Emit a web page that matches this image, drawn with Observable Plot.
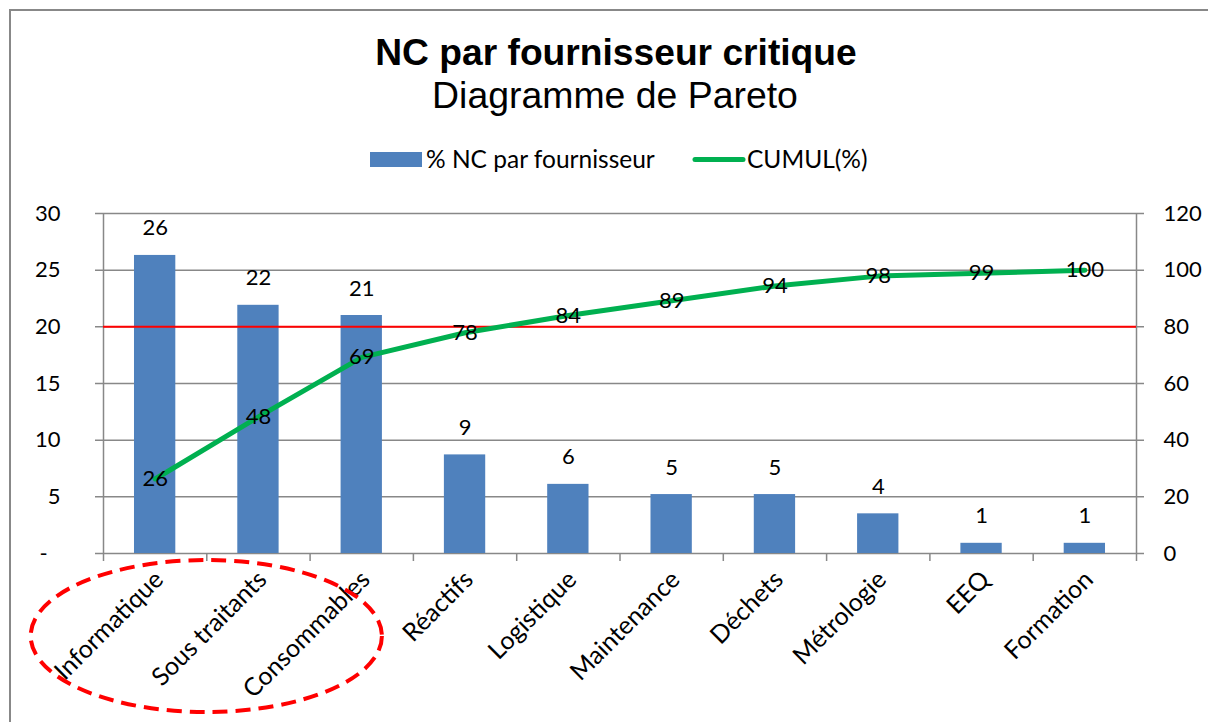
<!DOCTYPE html>
<html>
<head>
<meta charset="utf-8">
<script src="https://cdn.jsdelivr.net/npm/d3@7"></script>
<script src="https://cdn.jsdelivr.net/npm/@observablehq/plot@0.6"></script>
<style>
  html, body { margin: 0; padding: 0; background: #fff; }
  body { width: 1208px; height: 722px; overflow: hidden; position: relative; font-family: Lato, sans-serif; }
  #frame { position: absolute; left: 9px; top: 9px; width: 1300px; height: 800px; border: 2px solid #888; box-sizing: border-box; }
  #header { position: absolute; left: 0; top: 0; }
  #chart { position: absolute; left: 0; top: 190px; }
  #chart svg { background: transparent; overflow: visible; }
</style>
</head>
<body>
<div id="frame"></div>
<svg id="header" width="1208" height="190"></svg>
<div id="chart"></div>
<script>
// ---- data ----
const categories = ["Informatique", "Sous traitants", "Consommables", "Réactifs", "Logistique", "Maintenance", "Déchets", "Métrologie", "EEQ", "Formation"];
const pctNC = [26.3, 21.9, 21.0, 8.7, 6.1, 5.2, 5.2, 3.5, 0.9, 0.9];
const cumul = [26.3, 48.2, 69.2, 77.9, 84.0, 89.2, 94.4, 97.9, 98.9, 100];
const leftTicks = [0, 5, 10, 15, 20, 25, 30];
const rightTicks = [0, 20, 40, 60, 80, 100, 120];
const threshold = 20; // = 80 % on the right axis
const title = "NC par fournisseur critique";
const subtitle = "Diagramme de Pareto";
const legendBar = "% NC par fournisseur";
const legendLine = "CUMUL(%)";

const BLUE = "#4F81BD", GREEN = "#00B050", GRID = "#888888", RED = "#FF0000";
const ratio = 30 / 120; // right axis -> left axis

const idx = d3.range(categories.length);
const bars = idx.map(i => ({i, v: pctNC[i]}));
const cum = idx.map(i => ({i, v: cumul[i]}));

// ---- header (title, subtitle, legend) ----
const hdr = d3.select("#header");
hdr.append("text").attr("x", 616).attr("y", 65).attr("text-anchor", "middle")
  .attr("font-family", "Liberation Sans, Arial, sans-serif").attr("font-weight", "bold").attr("font-size", 37.2)
  .text(title);
hdr.append("text").attr("x", 615).attr("y", 108).attr("text-anchor", "middle")
  .attr("font-family", "Liberation Sans, Arial, sans-serif").attr("font-size", 37.4)
  .text(subtitle);
hdr.append("rect").attr("x", 370).attr("y", 152).attr("width", 52).attr("height", 15).attr("fill", BLUE);
hdr.append("text").attr("x", 426).attr("y", 168).attr("font-family", "Lato").attr("font-size", 24.5).text(legendBar);
hdr.append("line").attr("x1", 695).attr("x2", 743).attr("y1", 159.5).attr("y2", 159.5)
  .attr("stroke", GREEN).attr("stroke-width", 5).attr("stroke-linecap", "round");
hdr.append("text").attr("x", 747).attr("y", 168).attr("font-family", "Lato").attr("font-size", 24.5).text(legendLine);

// ---- chart ----
const chart = Plot.plot({
  width: 1208,
  height: 532,
  marginTop: 23,
  marginBottom: 169,
  marginLeft: 103,
  marginRight: 72,
  x: {domain: [0, categories.length], axis: null},
  y: {domain: [0, 30], axis: null},
  style: {fontFamily: "Lato", fontSize: "22px", color: "black", background: "transparent", overflow: "visible"},
  marks: [
    // gridlines incl. outer ticks
    Plot.ruleY(leftTicks, {x1: 0, x2: categories.length, stroke: GRID, strokeWidth: 1.5, insetLeft: -8, insetRight: -8}),
    // vertical axes
    Plot.ruleX([0, categories.length], {y1: 0, y2: 30, stroke: GRID, strokeWidth: 1.5}),
    // category boundary ticks
    Plot.axisX({ticks: d3.range(categories.length + 1), tickSize: 8, tickFormat: () => "", label: null, stroke: GRID, strokeWidth: 1.5, strokeOpacity: 1}),
    // bars
    Plot.rectY(bars, {x1: d => d.i + 0.3, x2: d => d.i + 0.7, y: "v", fill: BLUE}),
    // threshold
    Plot.ruleY([threshold], {x1: 0, x2: categories.length, stroke: RED, strokeWidth: 2}),
    // bar labels
    Plot.text(bars, {x: d => d.i + 0.5, y: "v", text: d => Math.round(d.v), dy: -27, fill: "black"}),
    // cumulative line
    Plot.line(cum, {x: d => d.i + 0.5, y: d => d.v * ratio, stroke: GREEN, strokeWidth: 5, strokeLinejoin: "round", strokeLinecap: "round"}),
    Plot.text(cum, {x: d => d.i + 0.5, y: d => d.v * ratio, text: d => Math.round(d.v), fill: "black"}),
    // left axis labels
    Plot.axisY({anchor: "left", ticks: leftTicks, tickSize: 0, tickPadding: 43, label: null,
      tickFormat: d => d === 0 ? "-\u2007" : String(d)}),
    // right axis labels
    Plot.axisY({anchor: "right", ticks: leftTicks, tickSize: 0, tickPadding: 27, label: null,
      tickFormat: d => String(Math.round(d / ratio))}),
    // category labels
    Plot.axisX({ticks: idx.map(i => i + 0.5), tickSize: 0, tickPadding: 22, tickRotate: -45, label: null,
      fontSize: 25, dx: 4, tickFormat: t => categories[Math.floor(t)], fill: "black"})
  ]
});
document.getElementById("chart").appendChild(chart);

// dashed ellipse highlighting the first three suppliers (placed through the scales)
const xs = chart.scale("x"), ys = chart.scale("y");
const cx = xs.apply(1), rx = xs.apply(2.7) - xs.apply(1);
d3.select(chart).append("ellipse")
  .attr("cx", cx).attr("cy", ys.apply(0) + 83).attr("rx", rx).attr("ry", 76)
  .attr("fill", "none").attr("stroke", RED).attr("stroke-width", 4).attr("stroke-dasharray", "15 8");
</script>
</body>
</html>
